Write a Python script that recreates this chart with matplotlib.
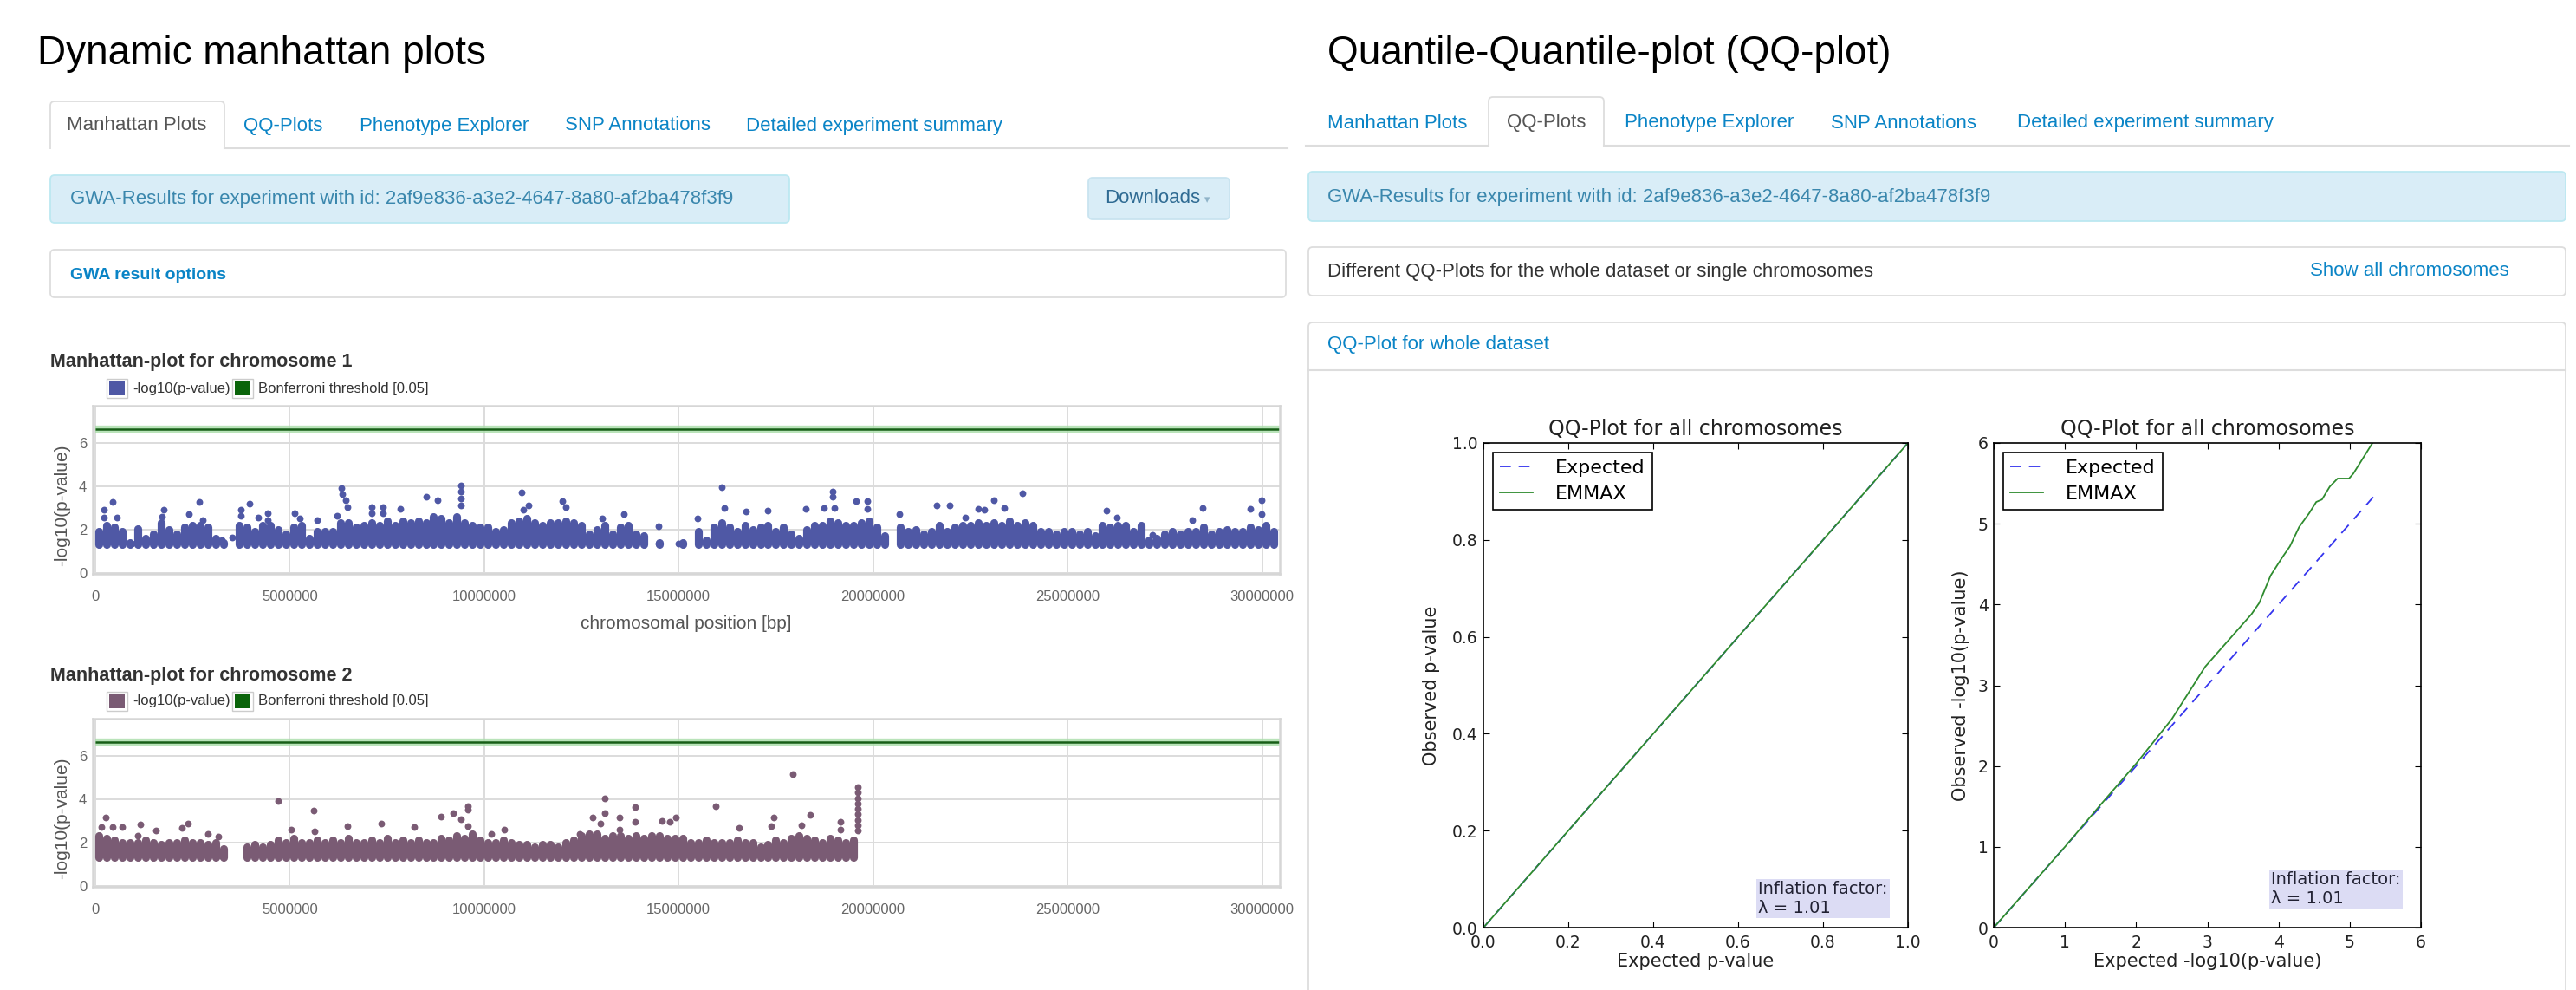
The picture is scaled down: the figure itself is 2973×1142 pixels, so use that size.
import numpy as np
import matplotlib
matplotlib.use("Agg")
import matplotlib.pyplot as plt
from matplotlib.patches import FancyBboxPatch, Rectangle
from matplotlib.ticker import FuncFormatter

W, H = 2973, 1142
UI_FONT = ["Liberation Sans", "DejaVu Sans"]

# ---- Manhattan data --------------------------------------------------------
# top of the dense band of dots in each 0.2 Mb bin (None = nothing above cutoff)
BIN_MB = 0.2
BAND_FLOOR = 1.31      # lowest dots: p < 0.05 filter
BONFERRONI = 6.64
AXIS_END_MB = 30.45

chr1_band = [
    1.9, 2.2, 2.1, 1.9, 1.4, 2.05, 1.6, 1.8, 2.3, 2.0,
    1.8, 2.1, 2.2, 2.2, 2.1, 1.6, 1.4, None, 2.2, 2.1,
    1.9, 2.2, 2.2, 2.0, 1.8, 2.1, 2.2, 1.6, 1.9, 1.9,
    1.9, 2.3, 2.3, 2.1, 2.2, 2.3, 2.2, 2.4, 2.2, 2.4,
    2.3, 2.4, 2.3, 2.6, 2.5, 2.3, 2.6, 2.3, 2.2, 2.1,
    2.1, 1.9, 2.0, 2.3, 2.4, 2.5, 2.3, 2.2, 2.3, 2.3,
    2.4, 2.3, 2.2, 1.8, 2.0, 2.2, 1.8, 2.1, 2.2, 1.8,
    1.7, None, 1.4, None, None, 1.4, None, 1.9, 1.5, 2.1,
    2.3, 2.1, 1.9, 2.2, 2.0, 2.1, 2.2, 1.9, 2.1, 1.8,
    1.6, 2.0, 2.2, 2.2, 2.4, 2.3, 2.2, 2.2, 2.3, 2.4,
    2.1, 1.7, None, 2.1, 1.9, 2.0, 1.8, 1.9, 2.2, 1.9,
    2.1, 2.2, 2.2, 2.3, 2.2, 2.3, 2.2, 2.4, 2.2, 2.3,
    2.2, 1.9, 1.9, 1.8, 1.9, 1.9, 1.8, 1.9, 1.7, 2.2,
    2.1, 2.2, 2.2, 1.9, 2.2, 1.5, 1.6, 1.8, 1.9, 1.8,
    1.9, 1.9, 2.1, 1.8, 1.9, 2.0, 1.9, 1.9, 2.1, 2.0,
    2.2, 1.9,
]
chr1_peak_mb = [0.22, 0.22, 0.44, 0.55, 0.93, 1.76, 1.72, 2.41, 2.68, 2.77,
                3.26, 3.52, 3.74, 3.74, 3.96, 4.19, 4.44, 4.44, 5.13, 5.26,
                5.7, 6.22, 6.33, 6.35, 6.44, 6.48, 7.1, 7.1, 7.4, 7.4,
                7.85, 8.52, 8.81, 9.41, 9.41, 9.41, 9.41, 10.96, 11.15, 11.0,
                12.0, 12.1, 13.04, 13.6, 14.48, 14.48, 15.0, 15.48, 16.1, 16.17,
                16.74, 17.3, 18.28, 18.74, 18.96, 18.96, 19.0, 19.56, 19.85, 19.85,
                20.67, 21.63, 21.96, 22.37, 22.7, 22.85, 23.11, 23.37, 23.85, 26.0,
                26.26, 27.18, 28.2, 28.48, 29.7, 29.99, 29.99]
chr1_peak_val = [2.9, 2.57, 3.27, 2.57, 1.37, 2.9, 2.6, 2.7, 3.28, 2.44,
                 1.5, 1.64, 2.9, 2.64, 3.2, 2.57, 2.77, 2.44, 2.77, 2.5,
                 2.44, 2.64, 3.91, 3.64, 3.37, 3.04, 3.04, 2.77, 3.04, 2.74,
                 2.97, 3.53, 3.35, 4.04, 3.77, 3.44, 3.1, 3.7, 3.1, 2.9,
                 3.3, 3.04, 2.5, 2.7, 2.17, 1.37, 1.37, 2.5, 3.97, 3.0,
                 2.84, 2.87, 2.97, 3.0, 3.75, 3.5, 3.0, 3.3, 3.3, 2.97,
                 2.7, 3.1, 3.1, 2.57, 2.97, 2.9, 3.37, 3.0, 3.67, 2.87,
                 2.57, 1.77, 2.44, 3.0, 2.97, 3.35, 2.7]

chr2_band = [
    2.3, 2.2, 2.1, 2.0, 2.0, 2.0, 2.1, 2.0, 1.9, 2.0,
    2.0, 2.1, 2.0, 2.0, 1.9, 2.0, 1.7, None, None, 1.8,
    1.9, 1.8, 1.9, 2.1, 2.0, 2.2, 2.0, 2.0, 2.1, 2.0,
    2.1, 2.0, 2.2, 2.0, 2.0, 2.1, 2.0, 2.2, 2.0, 2.1,
    2.0, 2.1, 2.0, 2.0, 2.2, 2.1, 2.3, 2.2, 2.4, 2.1,
    2.0, 2.0, 2.1, 2.0, 1.9, 1.9, 1.8, 1.9, 1.9, 1.8,
    2.0, 2.1, 2.3, 2.4, 2.4, 2.2, 2.3, 2.3, 2.2, 2.3,
    2.2, 2.3, 2.3, 2.2, 2.2, 2.2, 2.0, 2.0, 2.1, 2.0,
    2.0, 2.0, 2.1, 2.0, 2.0, 1.8, 1.9, 2.1, 2.0, 2.2,
    2.3, 2.2, 2.1, 2.0, 2.2, 2.1, 2.0, 2.1,
]
chr2_peak_mb = [0.15, 0.26, 0.45, 0.7, 1.1, 1.15, 1.56, 2.22, 2.39, 2.89,
                3.17, 3.22, 4.7, 5.04, 5.61, 5.63, 6.48, 7.35, 8.19, 8.9,
                9.2, 9.4, 9.57, 9.57, 9.57, 10.19, 10.52, 12.45, 12.78, 13.1,
                13.1, 13.0, 13.48, 13.48, 13.87, 13.87, 14.57, 14.78, 14.93, 15.96,
                16.56, 17.38, 17.45, 17.93, 18.15, 18.39, 19.15, 19.15,
                19.6, 19.6, 19.6, 19.6, 19.6, 19.6, 19.6, 19.6, 19.6]
chr2_peak_val = [2.7, 3.17, 2.7, 2.7, 2.3, 2.85, 2.57, 2.68, 2.88, 2.41,
                 2.28, 1.4, 3.92, 2.61, 3.48, 2.5, 2.77, 2.88, 2.72, 3.2,
                 3.35, 3.08, 3.68, 3.5, 2.77, 2.41, 2.61, 2.41, 3.15, 4.04,
                 3.35, 2.88, 3.17, 2.61, 3.64, 2.95, 2.99, 2.95, 3.17, 3.68,
                 2.68, 2.75, 3.17, 5.15, 2.81, 3.28, 2.97, 2.61,
                 4.55, 4.3, 4.05, 3.8, 3.55, 3.3, 3.05, 2.8, 2.55]

x_ticks_bp = [0, 5000000, 10000000, 15000000, 20000000, 25000000, 30000000]
y_ticks_log = [0, 2, 4, 6]

# ---- QQ data ---------------------------------------------------------------
qq_p_expected = [0.0, 1.0]
qq_p_emmax_x = [0.0, 0.1, 0.2, 0.3, 0.4, 0.5, 0.6, 0.7, 0.8, 0.9, 1.0]
qq_p_emmax_y = [0.0, 0.1, 0.2, 0.3, 0.4, 0.5, 0.6, 0.7, 0.8, 0.9, 1.0]
qq_log_expected = [0.0, 5.33]
qq_log_emmax_x = [0.0, 0.5, 1.0, 1.5, 2.0, 2.5, 2.97, 3.35, 3.62, 3.73, 3.89,
                  4.05, 4.16, 4.29, 4.43, 4.53, 4.61, 4.72, 4.83, 4.99, 5.05, 5.32]
qq_log_emmax_y = [0.0, 0.5, 1.0, 1.52, 2.03, 2.58, 3.23, 3.61, 3.88, 4.02, 4.36,
                  4.58, 4.72, 4.96, 5.13, 5.27, 5.30, 5.46, 5.56, 5.56, 5.62, 6.0]
inflation = 1.01

CHR1_COLOR = "#4f58a5"
CHR2_COLOR = "#7a5b74"
LINK = "#0a84c6"

fig = plt.figure(figsize=(W / 100, H / 100), dpi=100)
fig.patch.set_facecolor("white")

# pixel-space layer for the web page around the charts
ui = fig.add_axes([0, 0, 1, 1], zorder=0)
ui.set_xlim(0, W)
ui.set_ylim(H, 0)
ui.axis("off")


def px_axes(x0, y0, x1, y1):
    return fig.add_axes([x0 / W, 1 - y1 / H, (x1 - x0) / W, (y1 - y0) / H], zorder=2)


def box(x0, y0, x1, y1, fc, ec, r=5, lw=1.3):
    ui.add_patch(FancyBboxPatch((x0, y0), x1 - x0, y1 - y0,
                                boxstyle=f"round,pad=0,rounding_size={r}",
                                fc=fc, ec=ec, lw=lw))


def txt(x, y, s, size, color, weight="normal", va="center", **kw):
    ui.text(x, y, s, fontsize=size, color=color, fontweight=weight,
            va=va, ha="left", family=UI_FONT, **kw)


# page titles
txt(43, 74, "Dynamic manhattan plots", 33, "black", va="baseline")
txt(1532, 74, "Quantile-Quantile-plot (QQ-plot)", 33, "black", va="baseline")

# tab strips
box(58, 117, 259, 182, "white", "#dddddd")
ui.add_patch(Rectangle((56, 172), 205, 12, fc="white", ec="none"))
ui.plot([259, 1486], [171, 171], color="#dddddd", lw=1.5)
for x, s, c in [(77, "Manhattan Plots", "#555555"), (281, "QQ-Plots", LINK),
                (415, "Phenotype Explorer", LINK), (652, "SNP Annotations", LINK),
                (861, "Detailed experiment summary", LINK)]:
    txt(x, 145, s, 16, c)

box(1718, 112, 1851, 180, "white", "#dddddd")
ui.add_patch(Rectangle((1716, 169), 137, 12, fc="white", ec="none"))
ui.plot([1507, 1718], [168, 168], color="#dddddd", lw=1.5)
ui.plot([1851, 2965], [168, 168], color="#dddddd", lw=1.5)
for x, s, c in [(1532, "Manhattan Plots", LINK), (1739, "QQ-Plots", "#555555"),
                (1875, "Phenotype Explorer", LINK), (2113, "SNP Annotations", LINK),
                (2328, "Detailed experiment summary", LINK)]:
    txt(x, 142, s, 16, c)

# info boxes
gwa_id = "GWA-Results for experiment with id: 2af9e836-a3e2-4647-8a80-af2ba478f3f9"
box(58, 202, 911, 257, "#d9edf7", "#bce8f1")
txt(81, 230, gwa_id, 16, "#3a87ad")
box(1256, 205, 1419, 253, "#d9edf7", "#c9e4f0")
txt(1275, 229, "Downloads", 16, "#2f6b93")
txt(1390, 231, "\u25be", 9, "#8fb3c8")
box(58, 288, 1484, 343, "white", "#dddddd")
txt(81, 318, "GWA result options", 14, LINK, weight="bold")

box(1510, 198, 2961, 255, "#d9edf7", "#bce8f1")
txt(1532, 228, gwa_id, 16, "#3a87ad")
box(1510, 285, 2961, 341, "white", "#dddddd")
txt(1532, 313, "Different QQ-Plots for the whole dataset or single chromosomes", 16, "#333333")
txt(2666, 313, "Show all chromosomes", 16, LINK)
box(1510, 372, 2961, 1200, "white", "#dddddd")
ui.plot([1510, 2961], [427, 427], color="#dddddd", lw=1.5)
txt(1532, 398, "QQ-Plot for whole dataset", 16, LINK)


def chart_header(y_title, y_leg, title, color):
    txt(58, y_title, title, 15.5, "#333333", weight="bold")
    for x0, c, label in [(123, color, "-log10(p-value)"),
                         (268, "#0a640a", "Bonferroni threshold [0.05]")]:
        ui.add_patch(Rectangle((x0, y_leg - 11), 24, 22, fc="white", ec="#cccccc", lw=1))
        ui.add_patch(Rectangle((x0 + 3, y_leg - 8), 18, 16, fc=c, ec="none"))
        txt(x0 + 30, y_leg, label, 12, "#333333")


def manhattan(ax, band, peak_mb, peak_val, color, xlabel):
    band = np.array(band, dtype=float)
    centers = (np.arange(len(band)) + 0.5) * BIN_MB * 1e6
    ok = ~np.isnan(band)
    ax.vlines(centers[ok], BAND_FLOOR, band[ok], colors=color, linewidth=6.6,
              capstyle="round", zorder=3)
    ax.scatter(np.array(peak_mb) * 1e6, peak_val, s=32, color=color, linewidths=0, zorder=4)
    ax.hlines(BONFERRONI, 0, AXIS_END_MB * 1e6, color="#a8dca8", lw=6, alpha=0.8, zorder=2)
    ax.hlines(BONFERRONI, 0, AXIS_END_MB * 1e6, color="#175e17", lw=1.8, zorder=2.5)

    ax.set_xlim(-0.06e6, AXIS_END_MB * 1e6)
    ax.set_ylim(-0.03, 7.72)
    ax.set_xticks(x_ticks_bp)
    ax.xaxis.set_major_formatter(FuncFormatter(lambda v, p: f"{int(round(v))}"))
    ax.set_yticks(y_ticks_log)
    ax.tick_params(axis="x", length=0, labelsize=12, labelcolor="#666666", pad=14)
    ax.tick_params(axis="y", length=0, labelsize=12, labelcolor="#666666", pad=5)
    for lab in ax.get_xticklabels() + ax.get_yticklabels():
        lab.set_family(UI_FONT)
    ax.grid(True, color="#dcdcdc", lw=1.4)
    ax.set_axisbelow(True)
    for sp in ax.spines.values():
        sp.set_color("#d6d6d6")
        sp.set_linewidth(1.8)
    ax.set_ylabel("-log10(p-value)", fontsize=15, color="#555555", family=UI_FONT, va="center")
    ax.yaxis.set_label_coords(-0.0258, 0.41)
    if xlabel:
        ax.set_xlabel(xlabel, fontsize=15, color="#555555", family=UI_FONT, va="center")
        ax.xaxis.set_label_coords(0.5, -0.3)


chart_header(418, 448, "Manhattan-plot for chromosome 1", CHR1_COLOR)
ax1 = px_axes(107.3, 468, 1476.7, 661.7)
manhattan(ax1, chr1_band, chr1_peak_mb, chr1_peak_val, CHR1_COLOR, "chromosomal position [bp]")

chart_header(779, 809, "Manhattan-plot for chromosome 2", CHR2_COLOR)
ax2 = px_axes(107.3, 829, 1476.7, 1022.7)
manhattan(ax2, chr2_band, chr2_peak_mb, chr2_peak_val, CHR2_COLOR, None)


def qq(ax, ex, em_x, em_y, lim, ticks, fmt, xlabel, ylabel, ylab_x, box_xy):
    ax.plot(ex, ex, color="#3434ee", ls="--", dashes=(7, 5), lw=1.3, label="Expected")
    ax.plot(em_x, em_y, color="#2e8b2e", lw=1.3, label="EMMAX")
    ax.set_xlim(0, lim)
    ax.set_ylim(0, lim)
    ax.set_xticks(ticks)
    ax.set_yticks(ticks)
    ax.set_xticklabels([fmt.format(t) for t in ticks])
    ax.set_yticklabels([fmt.format(t) for t in ticks])
    ax.tick_params(direction="in", top=True, right=True, length=5, width=0.8,
                   labelsize=13.5, labelcolor="#222222")
    ax.tick_params(axis="x", pad=6)
    ax.tick_params(axis="y", pad=4.5)
    for sp in ax.spines.values():
        sp.set_linewidth(1.2)
    ax.set_title("QQ-Plot for all chromosomes", fontsize=17, color="#222222",
                 y=1.0286, va="center", pad=0)
    ax.set_xlabel(xlabel, fontsize=15, color="#222222", va="center")
    ax.xaxis.set_label_coords(0.5, -0.07)
    ax.set_ylabel(ylabel, fontsize=15, color="#222222", va="center")
    ax.yaxis.set_label_coords(ylab_x, 0.5)
    leg = ax.legend(loc="upper left", fontsize=16, fancybox=False, framealpha=1,
                    edgecolor="black", borderaxespad=0.5, borderpad=0.35,
                    handlelength=1.7, handletextpad=1.2, labelspacing=0.45)
    leg.get_frame().set_linewidth(1.2)
    ax.text(box_xy[0], box_xy[1], f"Inflation factor:\n\u03bb = {inflation:.2f}",
            transform=ax.transAxes, ha="left", va="bottom", fontsize=14,
            color="#222233", linespacing=1.2,
            bbox=dict(boxstyle="square,pad=0.12", fc="#dcdcf4", ec="none"))


qa = px_axes(1712, 511, 2202, 1070)
qq(qa, qq_p_expected, qq_p_emmax_x, qq_p_emmax_y, 1.0,
   [0.0, 0.2, 0.4, 0.6, 0.8, 1.0], "{:.1f}",
   "Expected p-value", "Observed p-value", -0.1224, (0.647, 0.023))

qb = px_axes(2301, 511, 2794, 1070)
qq(qb, qq_log_expected, qq_log_emmax_x, qq_log_emmax_y, 6,
   [0, 1, 2, 3, 4, 5, 6], "{:d}",
   "Expected -log10(p-value)", "Observed -log10(p-value)", -0.0771, (0.649, 0.043))

fig.savefig("out.png", dpi=100, facecolor="white")
